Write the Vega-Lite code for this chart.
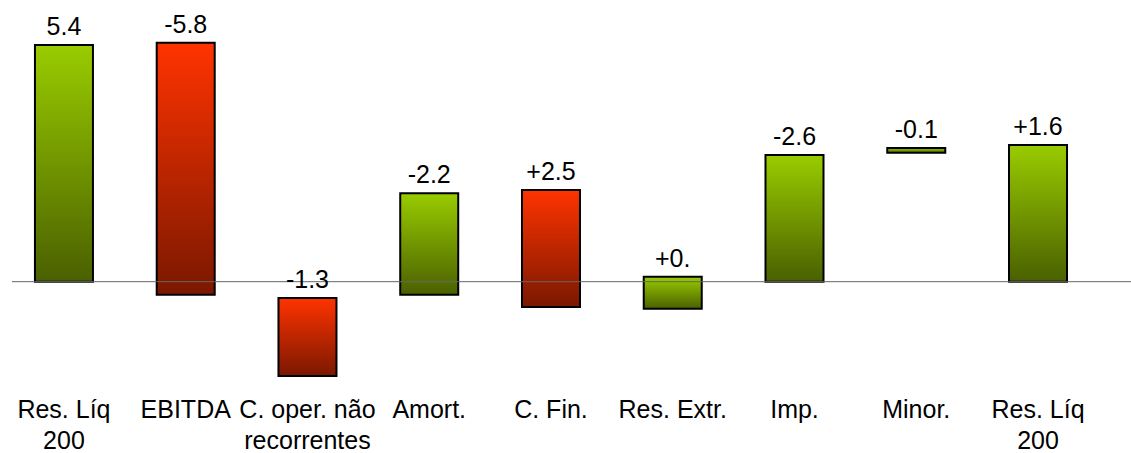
{
  "$schema": "https://vega.github.io/schema/vega-lite/v6.json",
  "width": 1119,
  "height": 385,
  "autosize": {"type": "none"},
  "padding": {"left": 12, "right": 0, "top": 0, "bottom": 68},
  "background": "white",
  "config": {"view": {"stroke": null}, "font": "Liberation Sans"},
  "data": {
    "values": [
      {"cat": "Res. Líq|200", "top": 5.4, "bottom": 0, "label": "5.4", "kind": "up"},
      {"cat": "EBITDA", "top": 5.45, "bottom": -0.3, "label": "-5.8", "kind": "down"},
      {"cat": "C. oper. não|recorrentes", "top": -0.37, "bottom": -2.15, "label": "-1.3", "kind": "down"},
      {"cat": "Amort.", "top": 2.02, "bottom": -0.3, "label": "-2.2", "kind": "up"},
      {"cat": "C. Fin.", "top": 2.09, "bottom": -0.58, "label": "+2.5", "kind": "down"},
      {"cat": "Res. Extr.", "top": 0.11, "bottom": -0.62, "label": "+0.", "kind": "up"},
      {"cat": "Imp.", "top": 2.89, "bottom": 0, "label": "-2.6", "kind": "up"},
      {"cat": "Minor.", "top": 3.05, "bottom": 2.94, "label": "-0.1", "kind": "up"},
      {"cat": "Res. Líq|200 ", "top": 3.12, "bottom": 0, "label": "+1.6", "kind": "up"}
    ]
  },
  "layer": [
    {
      "transform": [{"filter": "datum.kind == 'up'"}],
      "mark": {
        "type": "bar",
        "fill": {"gradient": "linear", "x1": 0, "y1": 0, "x2": 0, "y2": 1,
          "stops": [{"offset": 0, "color": "#99CC00"}, {"offset": 1, "color": "#4A6000"}]},
        "stroke": "#000000",
        "strokeWidth": 2
      },
      "encoding": {
        "x": {
          "field": "cat", "type": "nominal", "sort": null,
          "scale": {
            "domain": ["Res. Líq|200", "EBITDA", "C. oper. não|recorrentes", "Amort.", "C. Fin.", "Res. Extr.", "Imp.", "Minor.", "Res. Líq|200 "],
            "paddingInner": 0.5236, "paddingOuter": 0.357, "align": 0.264, "round": false},
          "axis": {
            "title": null, "domain": false, "ticks": false, "labelAngle": 0,
            "labelFontSize": 25, "labelColor": "#000000", "labelFont": "Liberation Sans",
            "labelPadding": 12, "labelLineHeight": 31, "labelBaseline": "top",
            "labelExpr": "split(datum.label, '|')", "labelLimit": 0,
            "labelOverlap": false, "labelBound": false
          }
        },
        "y": {"field": "top", "type": "quantitative",
          "scale": {"domain": [-2.357, 6.427], "nice": false, "zero": false}, "axis": null},
        "y2": {"field": "bottom"}
      }
    },
    {
      "transform": [{"filter": "datum.kind == 'down'"}],
      "mark": {
        "type": "bar",
        "fill": {"gradient": "linear", "x1": 0, "y1": 0, "x2": 0, "y2": 1,
          "stops": [{"offset": 0, "color": "#FF3300"}, {"offset": 1, "color": "#7A1800"}]},
        "stroke": "#000000",
        "strokeWidth": 2
      },
      "encoding": {
        "x": {"field": "cat", "type": "nominal", "sort": null},
        "y": {"field": "top", "type": "quantitative"},
        "y2": {"field": "bottom"}
      }
    },
    {
      "data": {"values": [{"v": 0}]},
      "mark": {"type": "rule", "color": "#666666", "strokeWidth": 1},
      "encoding": {"y": {"field": "v", "type": "quantitative"}}
    },
    {
      "mark": {"type": "text", "fontSize": 25, "baseline": "alphabetic", "dy": -10, "color": "#000000", "font": "Liberation Sans"},
      "encoding": {
        "x": {"field": "cat", "type": "nominal", "sort": null},
        "y": {"field": "top", "type": "quantitative"},
        "text": {"field": "label"}
      }
    }
  ]
}
